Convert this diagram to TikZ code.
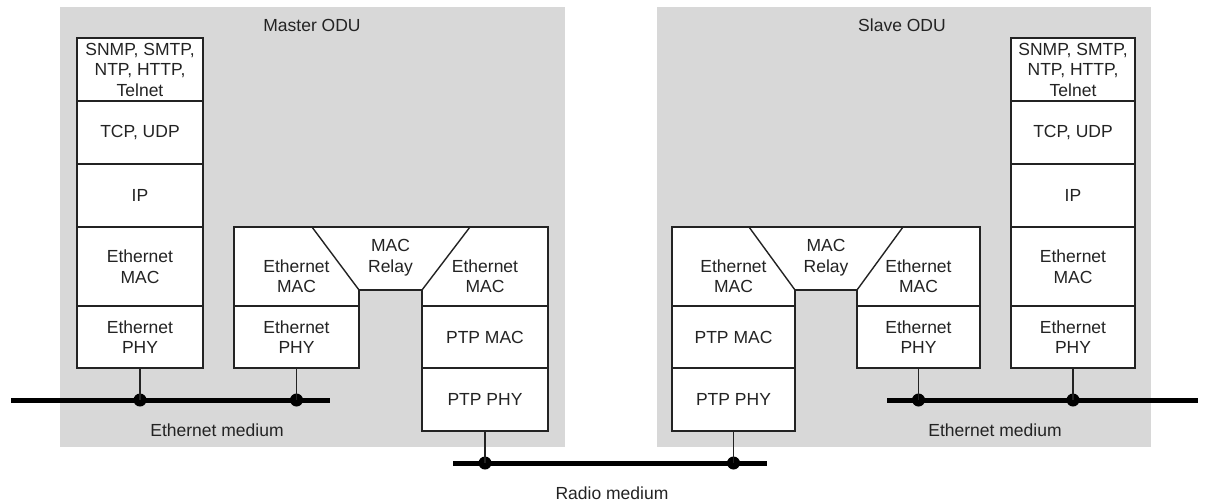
\documentclass[tikz,border=0pt]{standalone}
\usepackage{fontspec}
\setmainfont{Liberation Sans}
\definecolor{odugray}{RGB}{216,216,216}
\definecolor{inkc}{RGB}{35,35,35}
\tikzset{
  odubox/.style={fill=odugray, draw=none},
  layer/.style={draw=inkc, fill=white, line width=1.4pt, align=center, inner sep=0pt, text=inkc},
  txt/.style={align=center, inner sep=0pt, text=inkc},
  band/.style={draw=inkc, fill=white, line width=1.4pt, line join=miter},
  sep/.style={draw=inkc, line width=1.4pt},
  medium/.style={line width=5pt, draw=black},
  stub/.style={line width=1.4pt, draw=inkc},
  dot/.style={circle, fill=black, inner sep=0pt, minimum size=13pt},
}
\newcommand{\lyr}[6]{% name, x1, y1, x2, y2, text
  \node[layer, minimum width={#4-#2}, minimum height={#5-#3}] (#1) at ({(#2+#4)/2},{(#3+#5)/2}) {#6};}
\begin{document}
\begin{tikzpicture}[x=1pt, y=-1pt, font=\fontsize{17.5}{20.5}\selectfont]
\useasboundingbox (0,0) rectangle (1213,501);
% ODU backgrounds
\fill[odubox] (60,7) rectangle (565,447);
\fill[odubox] (657,7) rectangle (1151,447);
\node[txt] (mtitle) at (312,25) {Master ODU};
\node[txt] (stitle) at (902,25) {Slave ODU};
% Master host stack
\lyr{appM}{77}{38}{203}{101}{SNMP, SMTP,\\NTP, HTTP,\\Telnet}
\lyr{tcpM}{77}{101}{203}{164}{TCP, UDP}
\lyr{ipM}{77}{164}{203}{227}{IP}
\lyr{macM}{77}{227}{203}{306}{Ethernet\\MAC}
\lyr{phyM}{77}{306}{203}{368}{Ethernet\\PHY}
% Master bridge
\lyr{ephyMB}{234}{306}{359}{368}{Ethernet\\PHY}
\lyr{pmacMB}{422}{306}{548}{368}{PTP MAC}
\lyr{pphyMB}{422}{368}{548}{431}{PTP PHY}
\path[band] (234,227) -- (548,227) -- (548,306) -- (422,306) -- (422,290) -- (359,290) -- (359,306) -- (234,306) -- cycle;
\draw[sep] (312,227) -- (359,290);
\draw[sep] (470,227) -- (422,290);
\node[txt] (emacMBl) at (296.5,276) {Ethernet\\MAC};
\node[txt] (emacMBr) at (485,276) {Ethernet\\MAC};
\node[txt] (relayM) at (390.5,257.5) {MAC\\Relay};
% Slave bridge
\lyr{pmacSB}{672}{306}{795}{368}{PTP MAC}
\lyr{pphySB}{672}{368}{795}{431}{PTP PHY}
\lyr{ephySB}{857}{306}{980}{368}{Ethernet\\PHY}
\path[band] (672,227) -- (980,227) -- (980,306) -- (857,306) -- (857,290) -- (795,290) -- (795,306) -- (672,306) -- cycle;
\draw[sep] (749,227) -- (795,290);
\draw[sep] (903,227) -- (857,290);
\node[txt] (emacSBl) at (733.5,276) {Ethernet\\MAC};
\node[txt] (emacSBr) at (918.5,276) {Ethernet\\MAC};
\node[txt] (relayS) at (826,257.5) {MAC\\Relay};
% Slave host stack
\lyr{appS}{1011}{38}{1135}{101}{SNMP, SMTP,\\NTP, HTTP,\\Telnet}
\lyr{tcpS}{1011}{101}{1135}{164}{TCP, UDP}
\lyr{ipS}{1011}{164}{1135}{227}{IP}
\lyr{macS}{1011}{227}{1135}{306}{Ethernet\\MAC}
\lyr{phyS}{1011}{306}{1135}{368}{Ethernet\\PHY}
% Media
\coordinate (emMa) at (11,400);
\coordinate (emMb) at (330,400);
\coordinate (rma) at (453,463);
\coordinate (rmb) at (767,463);
\coordinate (emSa) at (887,400);
\coordinate (emSb) at (1198,400);
\draw[medium] (emMa) -- (emMb);
\draw[medium] (rma) -- (rmb);
\draw[medium] (emSa) -- (emSb);
\node[dot] (d1) at (140,400) {};
\node[dot] (d2) at (296.5,400) {};
\node[dot] (d3) at (485,463) {};
\node[dot] (d4) at (733.5,463) {};
\node[dot] (d5) at (918.5,400) {};
\node[dot] (d6) at (1073,400) {};
\draw[stub] (phyM.south) -- (d1.center);
\draw[stub] (ephyMB.south) -- (d2.center);
\draw[stub] (pphyMB.south) -- (d3.center);
\draw[stub] (pphySB.south) -- (d4.center);
\draw[stub] (ephySB.south) -- (d5.center);
\draw[stub] (phyS.south) -- (d6.center);
\node[txt] (lemM) at (217,430) {Ethernet medium};
\node[txt] (lemS) at (995,430) {Ethernet medium};
\node[txt] (lrm) at (612,493) {Radio medium};
\end{tikzpicture}
\end{document}
